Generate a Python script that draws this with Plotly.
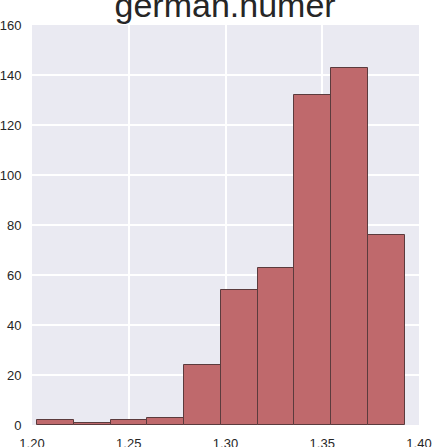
import plotly.graph_objects as go

# histogram of german.numer values: 10 bins
bin_edges = [1.2026, 1.2216, 1.2406, 1.2596, 1.2786, 1.2976,
             1.3166, 1.3356, 1.3546, 1.3736, 1.3926]
counts = [2, 1, 2, 3, 24, 54, 63, 132, 143, 76]
x_ticks = [1.20, 1.25, 1.30, 1.35, 1.40]
y_ticks = [0, 20, 40, 60, 80, 100, 120, 140, 160]

centers = [(a + b) / 2 for a, b in zip(bin_edges[:-1], bin_edges[1:])]
widths = [b - a for a, b in zip(bin_edges[:-1], bin_edges[1:])]

fig = go.Figure()
fig.add_trace(go.Bar(
    x=centers, y=counts, width=widths,
    marker=dict(color="#bf696c", line=dict(color="#5b3b3d", width=1)),
))

fig.update_layout(
    width=432, height=447,
    margin=dict(l=32, r=13, t=25, b=22),
    plot_bgcolor="#eaeaf2", paper_bgcolor="white",
    font=dict(family="Liberation Sans, Arial, sans-serif", size=13, color="#262626"),
    title=dict(text="german.numer", x=0.521, xanchor="center",
               y=1 - 17 / 447, yref="container", yanchor="bottom",
               font=dict(size=34, color="#262626")),
    showlegend=False,
    bargap=0,
)
fig.update_xaxes(range=[1.20, 1.40], tickvals=x_ticks, tickformat=".2f",
                 showgrid=True, gridcolor="white", gridwidth=1.5,
                 zeroline=False, showline=False, automargin=False,
                 ticklabeloverflow="allow",
                 ticks="outside", ticklen=6, tickcolor="rgba(0,0,0,0)")
fig.update_yaxes(range=[0, 160], tickvals=y_ticks,
                 showgrid=True, gridcolor="white", gridwidth=1.5,
                 zeroline=False, showline=False, automargin=False,
                 ticklabeloverflow="allow",
                 ticks="outside", ticklen=7, tickcolor="rgba(0,0,0,0)")

# page body has a default 8px margin; drop it so the figure fills the window
fig.write_html("out.html", config={"displayModeBar": False},
               post_script="document.body.style.margin='0';")
